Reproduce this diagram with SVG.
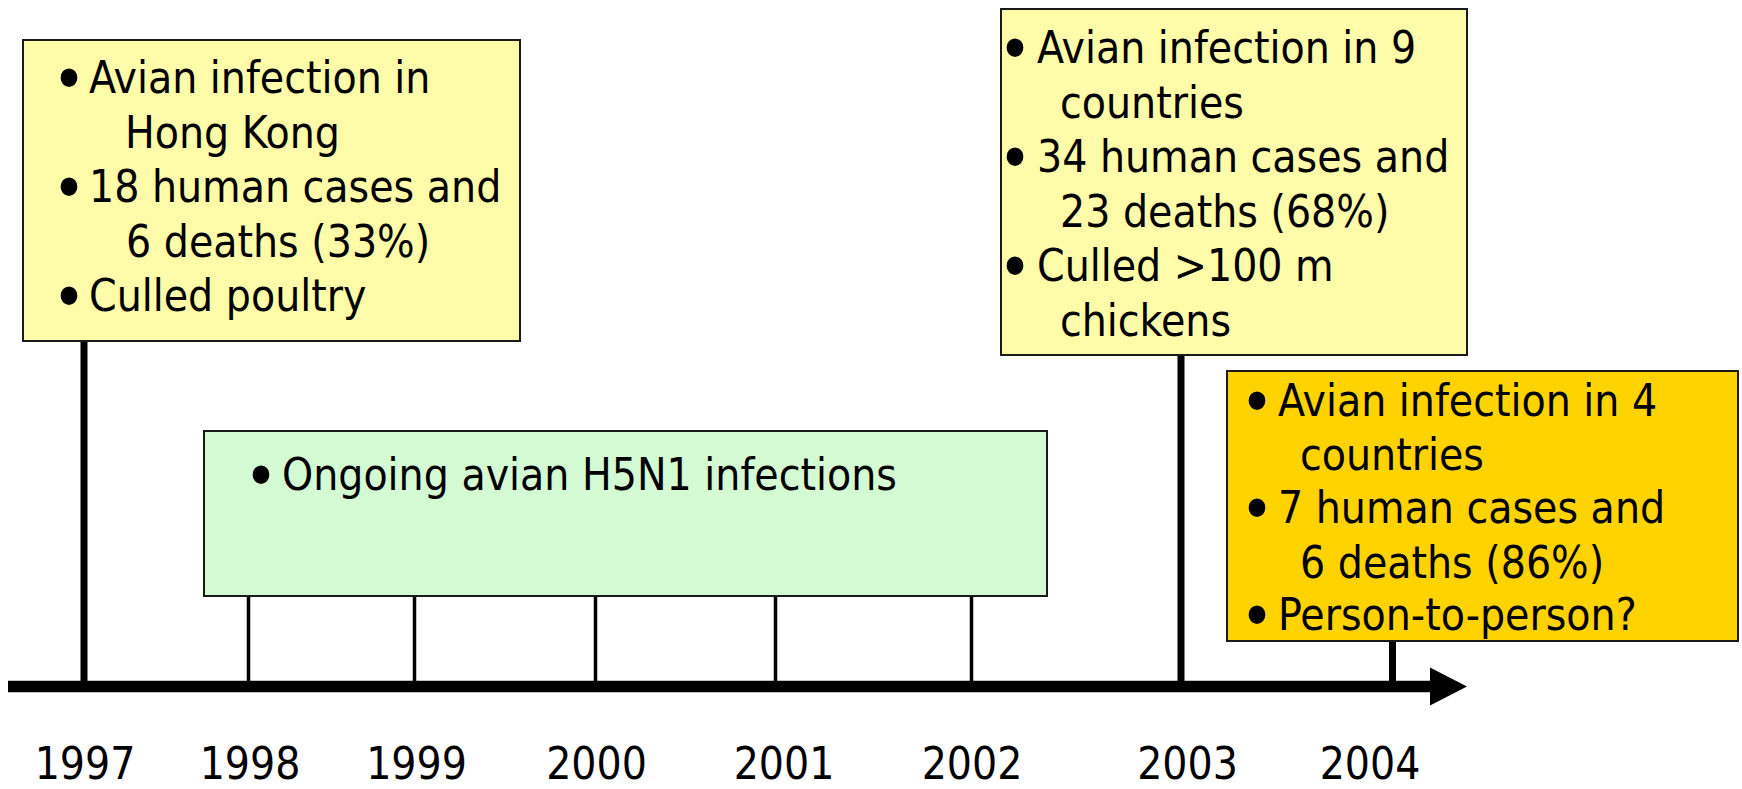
<svg xmlns="http://www.w3.org/2000/svg" width="1742" height="789" viewBox="0 0 1742 789">
<style>
  .box { stroke: #1a1a1a; stroke-width: 2; }
  .yellow { fill: #FFFCA9; }
  .green { fill: #D4FAD4; }
  .gold { fill: #FFD300; }
  text { font-family: "DejaVu Sans Condensed", "DejaVu Sans", sans-serif; font-stretch: condensed; font-size: 44px; fill: #000; }
  .bul { font-size: 64px; }
  .year { text-anchor: middle; }
  .thick { stroke: #000; stroke-width: 7; }
  .thin { stroke: #000; stroke-width: 3.5; }
</style>
<rect width="1742" height="789" fill="#ffffff"/>

<g id="connectors">
  <line class="thick" x1="84" y1="341" x2="84" y2="684"/>
  <line class="thin" x1="248.5" y1="596" x2="248.5" y2="684"/>
  <line class="thin" x1="414.5" y1="596" x2="414.5" y2="684"/>
  <line class="thin" x1="595.5" y1="596" x2="595.5" y2="684"/>
  <line class="thin" x1="775.5" y1="596" x2="775.5" y2="684"/>
  <line class="thin" x1="971.5" y1="596" x2="971.5" y2="684"/>
  <line class="thick" x1="1181" y1="355" x2="1181" y2="684"/>
  <line class="thick" x1="1392.5" y1="641" x2="1392.5" y2="684"/>
  <line x1="8" y1="686.5" x2="1432" y2="686.5" stroke="#000" stroke-width="11.5"/>
  <polygon points="1430,667.5 1467,686.5 1430,705.5" fill="#000"/>
</g>

<g id="box1997">
  <rect class="box yellow" x="23" y="40" width="497" height="301"/>
  <text class="bul" x="52" y="102">•</text>
  <text x="89" y="93">Avian infection in</text>
  <text x="125" y="147.5">Hong Kong</text>
  <text class="bul" x="52" y="211">•</text>
  <text x="89" y="202">18 human cases and</text>
  <text x="126" y="256.5">6 deaths (33%)</text>
  <text class="bul" x="52" y="320">•</text>
  <text x="89" y="311">Culled poultry</text>
</g>

<g id="box-ongoing">
  <rect class="box green" x="204" y="431" width="843" height="165"/>
  <text class="bul" x="244" y="499">•</text>
  <text x="282" y="490">Ongoing avian H5N1 infections</text>
</g>

<g id="box2003">
  <rect class="box yellow" x="1001" y="9" width="466" height="346"/>
  <text class="bul" x="998" y="72">•</text>
  <text x="1037" y="63">Avian infection in 9</text>
  <text x="1060" y="117.5">countries</text>
  <text class="bul" x="998" y="181">•</text>
  <text x="1037" y="172">34 human cases and</text>
  <text x="1060" y="226.5">23 deaths (68%)</text>
  <text class="bul" x="998" y="290">•</text>
  <text x="1037" y="281">Culled &gt;100 m</text>
  <text x="1060" y="335.5">chickens</text>
</g>

<g id="box2004">
  <rect class="box gold" x="1227" y="371" width="511" height="270"/>
  <text class="bul" x="1240" y="425">•</text>
  <text x="1278" y="416">Avian infection in 4</text>
  <text x="1300" y="470">countries</text>
  <text class="bul" x="1240" y="532">•</text>
  <text x="1278" y="523">7 human cases and</text>
  <text x="1300" y="578">6 deaths (86%)</text>
  <text class="bul" x="1240" y="639">•</text>
  <text x="1278" y="630">Person-to-person?</text>
</g>

<g id="years">
  <text class="year" x="85" y="779">1997</text>
  <text class="year" x="250" y="779">1998</text>
  <text class="year" x="416.5" y="779">1999</text>
  <text class="year" x="596.5" y="779">2000</text>
  <text class="year" x="784" y="779">2001</text>
  <text class="year" x="972" y="779">2002</text>
  <text class="year" x="1187.5" y="779">2003</text>
  <text class="year" x="1370" y="779">2004</text>
</g>
</svg>
